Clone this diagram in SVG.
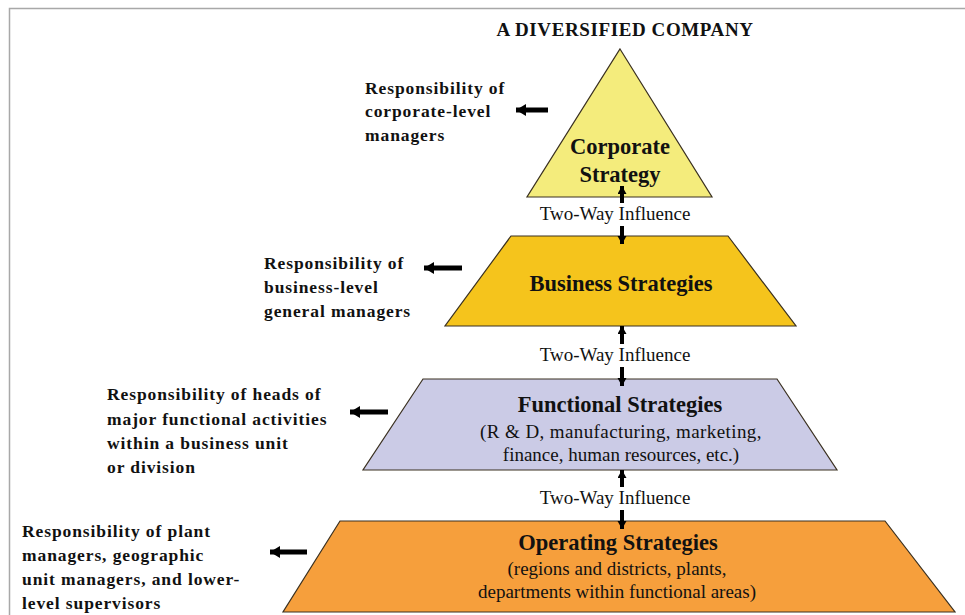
<svg xmlns="http://www.w3.org/2000/svg" width="965" height="615" viewBox="0 0 965 615">
<defs>
<marker id="hh" markerUnits="userSpaceOnUse" markerWidth="11" markerHeight="13" refX="10" refY="6.5" orient="auto">
<path d="M0,0.5 L10,6.5 L0,12.5 Z" fill="#000"/>
</marker>
<marker id="vh" markerUnits="userSpaceOnUse" markerWidth="9" markerHeight="10" refX="8" refY="4.5" orient="auto">
<path d="M8,4.5 L0,0 L0,9 Z" fill="#000"/>
</marker>
</defs>
<style>
.t{font-family:"Liberation Serif","Times New Roman",serif;fill:#111}
.b{font-weight:bold}
.lbl{font-size:17.5px;font-weight:bold;letter-spacing:0.9px}
.h{font-size:22.5px;font-weight:bold;text-anchor:middle}
.s{font-size:19px;text-anchor:middle}
.shape{stroke:#3a3020;stroke-width:1.2}
.ha{stroke:#000;stroke-width:5;fill:none;marker-end:url(#hh)}
.va{stroke:#000;stroke-width:4;fill:none;marker-end:url(#vh)}
</style>
<rect width="965" height="615" fill="#fff"/>
<path d="M9.5,615 V8.5 H965" fill="none" stroke="#a8a8a8" stroke-width="1.5"/>
<text class="t b" x="625" y="36" font-size="19" letter-spacing="0.6" text-anchor="middle">A DIVERSIFIED COMPANY</text>

<g id="corporate">
<polygon class="shape" points="620,49 712,197 527,197" fill="#F4EC7C"/>
<text class="t h" x="620" y="154">Corporate</text>
<text class="t h" x="620" y="182">Strategy</text>
</g>
<g id="business">
<polygon class="shape" points="511,236 728,236 796,326 445,326" fill="#F5C41C"/>
<text class="t h" x="621" y="291">Business Strategies</text>
</g>
<g id="functional">
<polygon class="shape" points="423,379 777,379 837,470 363,470" fill="#CBCBE6"/>
<text class="t h" x="620" y="412">Functional Strategies</text>
<text class="t s" x="621" y="438" letter-spacing="0.4">(R &amp; D, manufacturing, marketing,</text>
<text class="t s" x="621" y="461">finance, human resources, etc.)</text>
</g>
<g id="operating">
<polygon class="shape" points="340,521 885,521 955,612 283,612" fill="#F69F3C"/>
<text class="t h" x="618" y="550">Operating Strategies</text>
<text class="t s" x="617" y="575">(regions and districts, plants,</text>
<text class="t s" x="617" y="598">departments within functional areas)</text>
</g>

<g id="label-corporate">
<text class="t lbl" x="365" y="94">Responsibility of</text>
<text class="t lbl" x="365" y="117">corporate-level</text>
<text class="t lbl" x="365" y="141">managers</text>
</g>
<g id="label-business">
<text class="t lbl" x="264" y="269">Responsibility of</text>
<text class="t lbl" x="264" y="293">business-level</text>
<text class="t lbl" x="264" y="317">general managers</text>
</g>
<g id="label-functional">
<text class="t lbl" x="107" y="400">Responsibility of heads of</text>
<text class="t lbl" x="107" y="425">major functional activities</text>
<text class="t lbl" x="107" y="449">within a business unit</text>
<text class="t lbl" x="107" y="473">or division</text>
</g>
<g id="label-operating">
<text class="t lbl" x="22" y="537">Responsibility of plant</text>
<text class="t lbl" x="22" y="561">managers, geographic</text>
<text class="t lbl" x="22" y="585">unit managers, and lower-</text>
<text class="t lbl" x="22" y="609">level supervisors</text>
</g>

<g id="influence-labels">
<text class="t s" x="615" y="220">Two-Way Influence</text>
<text class="t s" x="615" y="361">Two-Way Influence</text>
<text class="t s" x="615" y="504">Two-Way Influence</text>
</g>

<g id="connectors">
<line class="ha" x1="548" y1="110" x2="516" y2="110"/>
<line class="ha" x1="462" y1="268" x2="424" y2="268"/>
<line class="ha" x1="388" y1="412" x2="350" y2="412"/>
<line class="ha" x1="307" y1="552" x2="270" y2="552"/>
<line class="va" x1="622" y1="203" x2="622" y2="186"/>
<line class="va" x1="622" y1="226" x2="622" y2="244"/>
<line class="va" x1="622" y1="344" x2="622" y2="326"/>
<line class="va" x1="622" y1="367" x2="622" y2="386"/>
<line class="va" x1="622" y1="487" x2="622" y2="470"/>
<line class="va" x1="622" y1="510" x2="622" y2="529"/>
</g>
</svg>
